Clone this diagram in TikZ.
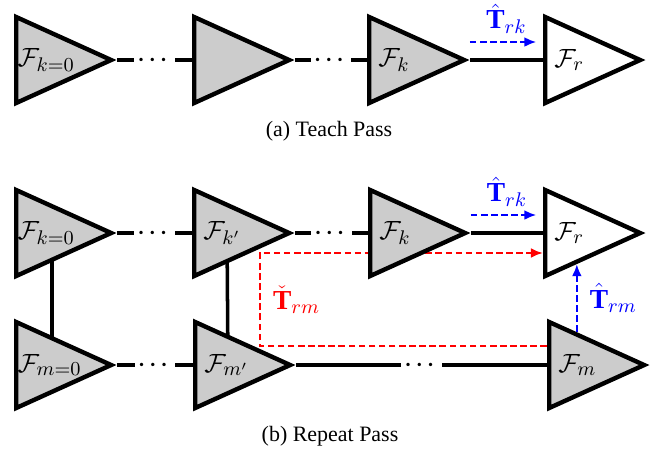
\documentclass[tikz,border=0pt]{standalone}
\usepackage{amsmath}
\usepackage{fontspec}
\setmainfont{Liberation Serif}
\usepackage{tikz}
\usetikzlibrary{shapes.geometric,calc,backgrounds,arrows.meta}

\newcommand{\gapdots}{$\boldsymbol{\cdots}$}

\begin{document}
\begin{tikzpicture}[x=0.016cm, y=-0.016cm, >={Latex[length=5.5pt,width=4.5pt]},
    stage/.style={isosceles triangle, isosceles triangle stretches, draw,
        line width=2pt, fill=gray!40, minimum height=1.52cm,
        minimum width=1.376cm, inner sep=0pt, anchor=lower side},
    stage r/.style={fill=white},
    tag/.style={anchor=west, inner xsep=5pt, font=\fontsize{12.5}{15}\selectfont},
    tag k0/.style={inner xsep=1.5pt},
    tag m0/.style={inner xsep=1.5pt},
    xform/.style={font=\fontsize{12.5}{15}\selectfont},
    link/.style={line width=1.6pt},
    dots/.style={fill=white, inner sep=1.5pt},
    trans/.style={line width=1.2pt, dash pattern=on 3pt off 1.6pt}]

    \useasboundingbox (0,0) rectangle (661,454);

    % teach pass
        % stages
        \foreach \m/\x in {k0/14, kp/192, k/367, r/543}
            \node [stage, stage \m/.try] (a-\m) at (\x,60) {};

        % stage names
        \foreach \m/\l in {k0/{k=0}, k/k, r/r}
            \node [tag, tag \m/.try] (a-\m-tag) at (a-\m.lower side) {$\mathcal{F}_{\l}$};

        % chain
        \draw [link] (a-k0.apex) -- node [dots] {\gapdots} (a-kp.lower side);
        \draw [link] (a-kp.apex) -- node [dots] {\gapdots} (a-k.lower side);
        \draw [link] (a-k.apex) -- (a-r.lower side);

        % transform
        \draw [trans, blue, ->, shorten >=3pt] ([yshift=8.2pt]a-k.apex) -- ([yshift=8.2pt]a-r.lower side)
            node [xform, midway, above] {$\hat{\mathbf{T}}_{rk}$};

        \node (a-cap) at (329,131) {(a) Teach Pass};

    % repeat pass
        % stages
        \foreach \m/\x in {k0/14, kp/192, k/368, r/543}
            \node [stage, stage \m/.try] (b-\m) at (\x,233) {};
        \foreach \m/\x in {m0/14, mp/193, m/547}
            \node [stage] (b-\m) at (\x,365) {};

        % stage names
        \foreach \m/\l in {k0/{k=0}, kp/{k'}, k/k, r/r, m0/{m=0}, mp/{m'}, m/m}
            \node [tag, tag \m/.try] (b-\m-tag) at (b-\m.lower side) {$\mathcal{F}_{\l}$};

        % chains
        \draw [link] (b-k0.apex) -- node [dots] {\gapdots} (b-kp.lower side);
        \draw [link] (b-kp.apex) -- node [dots] {\gapdots} (b-k.lower side);
        \draw [link] (b-k.apex) -- (b-r.lower side);
        \draw [link] (b-m0.apex) -- node [dots] {\gapdots} (b-mp.lower side);
        \draw [link] (b-mp.apex) -- node [dots] {\gapdots} (b-m.lower side);

        % behind the stages
        \begin{scope}[on background layer]
            \draw [link] ($(b-k0.lower side)!0.37!(b-k0.apex)$) -- ($(b-m0.lower side)!0.37!(b-m0.apex)$);
            \draw [link] ($(b-kp.lower side)!0.34!(b-kp.apex)$) -- ($(b-mp.lower side)!0.34!(b-mp.apex)$);
            \draw [trans, red, ->] ([yshift=8.6pt]b-m.lower side) -- ++(-287,0)
                |- node [xform, pos=0.25, right, xshift=2pt] {$\check{\mathbf{T}}_{rm}$} ([yshift=-9.1pt]b-r.lower side);
        \end{scope}

        % transforms
        \draw [trans, blue, ->, shorten >=3pt] ([yshift=8.2pt]b-k.apex) -- ([yshift=8.2pt]b-r.lower side)
            node [xform, midway, above] {$\hat{\mathbf{T}}_{rk}$};
        \coordinate (rm-from) at ($(b-m.left corner)!0.29!(b-m.apex)$);
        \coordinate (rm-to) at ($(b-r.right corner)!0.33!(b-r.apex)$);
        \draw [trans, blue, ->] (rm-from) -- (rm-from |- rm-to)
            node [xform, midway, right, xshift=2pt] {$\hat{\mathbf{T}}_{rm}$};

        \node (b-cap) at (330,436) {(b) Repeat Pass};

\end{tikzpicture}
\end{document}
